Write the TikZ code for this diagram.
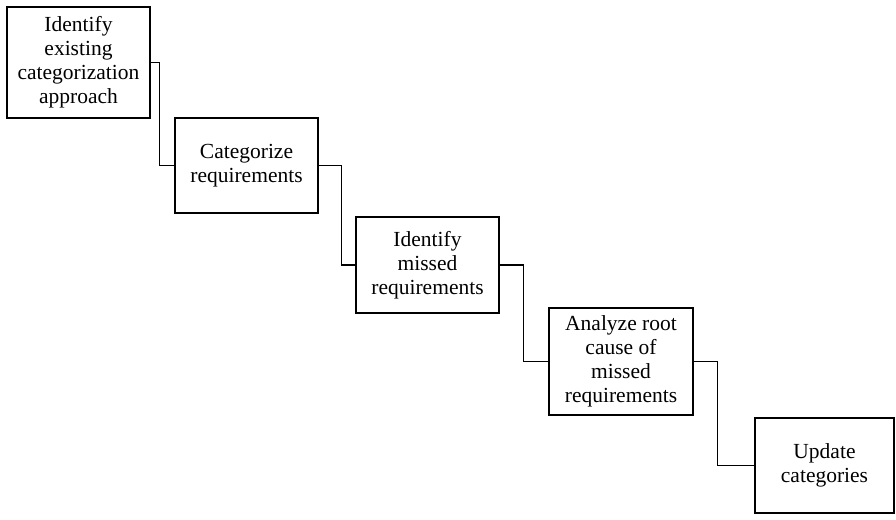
\documentclass[tikz,border=0pt]{standalone}
\usepackage{fontspec}
\setmainfont{Liberation Serif}
\begin{document}
\begin{tikzpicture}[x=1pt,y=-1pt,
  stepbox/.style={draw,line width=1.1pt,align=center,inner sep=0pt,
    font=\fontsize{21.5}{24}\selectfont},
  link/.style={draw,line width=1.1pt}]
\useasboundingbox (0,0) rectangle (896,519);
% process steps, each box sized explicitly
\node[stepbox,minimum width=143pt,minimum height=111pt] (b1) at (78.5,62.5)
  {Identify\\existing\\categorization\\approach};
\node[stepbox,minimum width=143pt,minimum height=95pt] (b2) at (246.5,165.5)
  {Categorize\\requirements};
\node[stepbox,minimum width=143pt,minimum height=96pt] (b3) at (427.5,265)
  {Identify\\missed\\requirements};
\node[stepbox,minimum width=144pt,minimum height=107pt] (b4) at (621,361.5)
  {Analyze root\\cause of\\missed\\requirements};
\node[stepbox,minimum width=139pt,minimum height=95pt] (b5) at (824.5,465.5)
  {Update\\categories};
% stepped connectors between consecutive boxes
\draw[link] (b1.east) -- ++(9,0) |- (b2.west);
\draw[link] (b2.east) -- ++(23,0) |- (b3.west);
\draw[link] (b3.east) -- ++(24,0) |- (b4.west);
\draw[link] (b4.east) -- ++(24,0) |- (b5.west);
\end{tikzpicture}
\end{document}
